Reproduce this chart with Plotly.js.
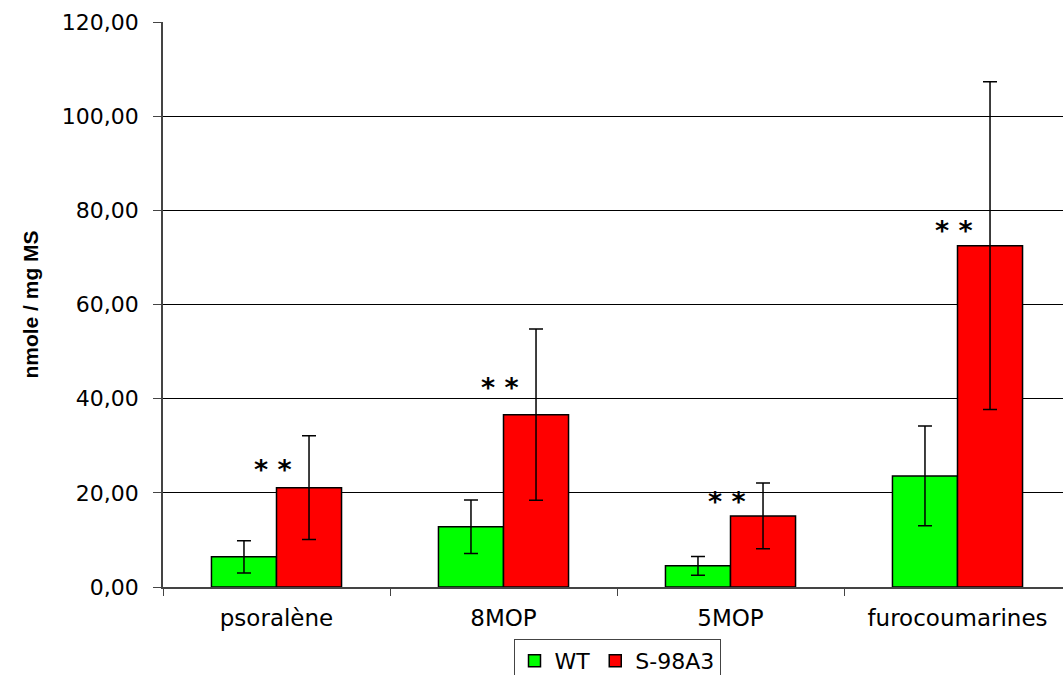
<!DOCTYPE html>
<html><head><meta charset="utf-8">
<script src="https://cdn.plot.ly/plotly-3.0.1.min.js"></script>
<style>html,body{margin:0;padding:0;overflow:hidden;background:#fff}</style>
</head><body>
<div id="chart" style="width:1075px;height:695px"></div>
<script>
const categories = ["psoralène", "8MOP", "5MOP", "furocoumarines"];
const seriesNames = ["WT", "S-98A3"];
const wtValues = [6.4, 12.8, 4.5, 23.6];
const wtErrors = [3.4, 5.7, 2.0, 10.6];
const s98Values = [21.1, 36.6, 15.1, 72.5];
const s98Errors = [11.0, 18.2, 7.0, 34.8];
const starLabels = ["* *", "* *", "* *", "* *"];
const starY = [25.9, 43.3, 19.1, 76.5];

const errStyle = {type: "data", visible: true, color: "#000", thickness: 1.5, width: 7};
const traces = [
  {type: "bar", name: seriesNames[0], x: categories, y: wtValues,
   marker: {color: "#00ff00", line: {color: "#000", width: 1.5}},
   error_y: Object.assign({array: wtErrors}, errStyle)},
  {type: "bar", name: seriesNames[1], x: categories, y: s98Values,
   marker: {color: "#ff0000", line: {color: "#000", width: 1.5}},
   error_y: Object.assign({array: s98Errors}, errStyle)}
];

const annotations = categories.map((c, i) => ({
  x: c, y: starY[i], xref: "x", yref: "y", text: "<b>" + starLabels[i] + "</b>",
  showarrow: false, xshift: -4, yshift: -4,
  font: {family: "DejaVu Sans, sans-serif", size: 27, color: "#000"}
}));

const layout = {
  width: 1075, height: 695,
  margin: {l: 163, r: 4, t: 22, b: 108},
  paper_bgcolor: "#fff", plot_bgcolor: "#fff",
  barmode: "group", bargap: 0.427, bargroupgap: 0,
  separators: ",.",
  font: {family: "DejaVu Sans, sans-serif", color: "#000"},
  xaxis: {
    type: "category", tickson: "boundaries", ticks: "outside", ticklen: 7,
    tickcolor: "#444", showline: true, linecolor: "#444", linewidth: 1.5,
    tickfont: {size: 23}, showgrid: false, ticklabelstandoff: 10
  },
  yaxis: {
    range: [0, 120], dtick: 20, tickformat: ".2f",
    ticks: "outside", ticklen: 8, tickcolor: "#444",
    showline: true, linecolor: "#444", linewidth: 1.5,
    gridcolor: "#000", gridwidth: 1, zeroline: false,
    tickfont: {size: 22}, ticklabelstandoff: 10,
    title: {text: "<b>nmole / mg MS</b>", font: {family: "Liberation Sans Narrow, Liberation Sans, Arial, sans-serif", size: 21}, standoff: 18}
  },
  showlegend: true,
  legend: {
    orientation: "h", x: 0.5, xanchor: "center", y: -0.092, yanchor: "top",
    bordercolor: "#444", borderwidth: 1, font: {size: 22},
    traceorder: "normal", tracegroupgap: 0, itemwidth: 30
  },
  annotations: annotations
};
Plotly.newPlot("chart", traces, layout, {displayModeBar: false});
</script>
</body></html>
